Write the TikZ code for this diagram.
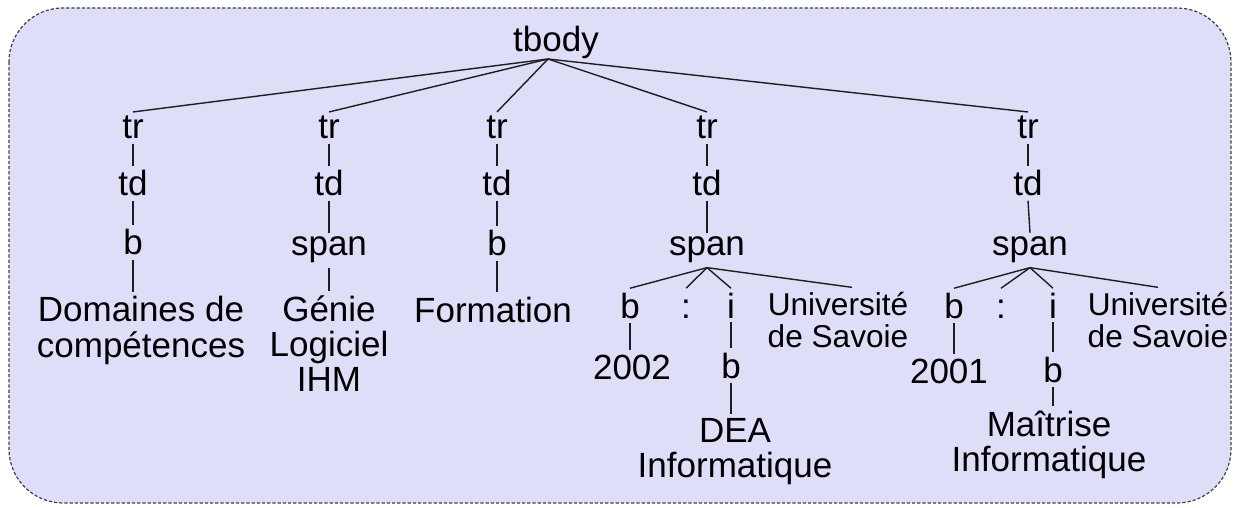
\documentclass[tikz,border=0pt]{standalone}
\usepackage{fontspec}
\setmainfont{Liberation Sans}
\usetikzlibrary{calc}
\definecolor{bgfill}{RGB}{222,222,248}
\definecolor{edgecol}{RGB}{30,30,30}
\tikzset{
  lab/.style={anchor=base, inner sep=2pt, align=center, text=black,
    font=\fontsize{17.5pt}{17.5pt}\selectfont},
  smalllab/.style={lab, font=\fontsize{15.8pt}{16pt}\selectfont},
  edge/.style={draw=edgecol, line width=0.7pt},
  frame/.style={draw=black!75, fill=bgfill, line width=0.6pt,
    dash pattern=on 1.6pt off 1pt, rounded corners=27pt}
}
\begin{document}
\begin{tikzpicture}[x=0.5pt, y=-0.5pt]
\useasboundingbox (0,0) rectangle (1238,508);
\path[frame] (9,8) rectangle (1231,503);

% root
\node[lab] (tbody) at (556,52) {tbody};
\coordinate (tbA) at ($(tbody.base)+(-8,7)$);

% column 1 (multi-line nodes: base = baseline of last line)
\node[lab] (tr1) at (133,139) {tr};
\node[lab] (td1) at (133,196) {td};
\node[lab] (b1) at (133,255) {b};
\node[lab] (dom) at (141,357) {Domaines de\\compétences};
% column 2
\node[lab] (tr2) at (329,139) {tr};
\node[lab] (td2) at (329,196) {td};
\node[lab] (sp2) at (329,256) {span};
\node[lab] (gen) at (329,391) {Génie\\Logiciel\\IHM};
% column 3
\node[lab] (tr3) at (497,139) {tr};
\node[lab] (td3) at (497,196) {td};
\node[lab] (b3) at (497,256) {b};
\node[lab] (form) at (493,322) {Formation};
% column 4
\node[lab] (tr4) at (707,139) {tr};
\node[lab] (td4) at (707,196) {td};
\node[lab] (sp4) at (707,256) {span};
\node[lab] (b4) at (630,318) {b};
\node[lab] (c4) at (686,318) {\vphantom{b}:};
\node[lab] (i4) at (731,318) {i};
\node[smalllab] (univ4) at (838,347) {Université\\de Savoie};
\node[lab] (y4) at (632,379) {2002};
\node[lab] (bb4) at (731,378) {b};
\node[lab] (dea) at (735,477) {DEA\\Informatique};
% column 5
\node[lab] (tr5) at (1028,139) {tr};
\node[lab] (td5) at (1028,196) {td};
\node[lab] (sp5) at (1030,256) {span};
\node[lab] (b5) at (954,318) {b};
\node[lab] (c5) at (1001,318) {\vphantom{b}:};
\node[lab] (i5) at (1053,318) {i};
\node[smalllab] (univ5) at (1158,347) {Université\\de Savoie};
\node[lab] (y5) at (949,383) {2001};
\node[lab] (bb5) at (1053,382) {b};
\node[lab] (mai) at (1049,471) {Maîtrise\\Informatique};

% edges from root
\foreach \t in {tr1,tr2,tr3,tr4,tr5} \draw[edge] (tbA) -- (\t.north);

% vertical chains
\draw[edge] (tr1.south) -- (td1.north);
\draw[edge] (td1.south) -- (b1.north);
\draw[edge] (b1.south) -- (b1.south |- dom.north);
\draw[edge] (tr2.south) -- (td2.north);
\draw[edge] (td2.south) -- (sp2.north);
\draw[edge] (sp2.south) -- (sp2.south |- gen.north);
\draw[edge] (tr3.south) -- (td3.north);
\draw[edge] (td3.south) -- (b3.north);
\draw[edge] (b3.south) -- (b3.south |- form.north);
\draw[edge] (tr4.south) -- (td4.north);
\draw[edge] (td4.south) -- (sp4.north);
\draw[edge] (tr5.south) -- (td5.north);
\draw[edge] (td5.south) -- (sp5.north);

% span fans
\foreach \c in {b4,c4,i4} \draw[edge] (sp4.south) -- (\c.north);
\draw[edge] (sp4.south) -- ([xshift=7pt]univ4.north);
\foreach \c in {b5,c5,i5,univ5} \draw[edge] (sp5.south) -- (\c.north);

% lower chains
\draw[edge] (b4.south) -- (b4.south |- y4.north);
\draw[edge] (i4.south) -- (bb4.north);
\draw[edge] (bb4.south) -- (bb4.south |- dea.north);
\draw[edge] (b5.south) -- (b5.south |- y5.north);
\draw[edge] (i5.south) -- (bb5.north);
\draw[edge] (bb5.south) -- (bb5.south |- mai.north);
\end{tikzpicture}
\end{document}
